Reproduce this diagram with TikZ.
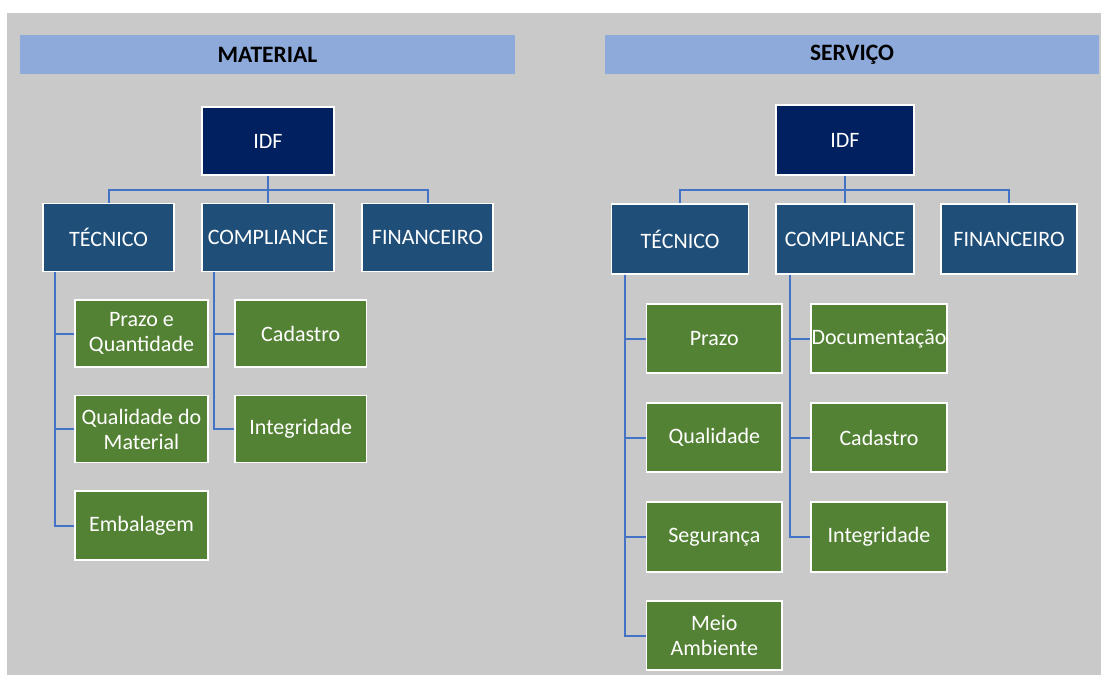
\documentclass[tikz,border=0pt]{standalone}
\usepackage{fontspec}
\setmainfont{Carlito}
\usetikzlibrary{calc}
\definecolor{bggray}{HTML}{C9C9C9}
\definecolor{bannerblue}{HTML}{8EAADB}
\definecolor{navy}{HTML}{002060}
\definecolor{midblue}{HTML}{1F4E79}
\definecolor{leafgreen}{HTML}{548235}
\definecolor{linkblue}{HTML}{4472C4}
\begin{document}
\begin{tikzpicture}[x=1pt,y=-1pt,
  banner/.style={fill=bannerblue,draw=none,inner sep=0pt,text=black,
    font=\fontsize{23.5}{27}\selectfont\bfseries,minimum height=39pt},
  boxbase/.style={draw=white,line width=1.4pt,inner sep=0pt,text=white,align=center,
    font=\fontsize{22}{25}\selectfont},
  rootbox/.style={boxbase,fill=navy},
  midbox/.style={boxbase,fill=midblue,minimum height=68pt},
  leafbox/.style={boxbase,fill=leafgreen,minimum height=67pt},
  conn/.style={draw=linkblue,line width=2pt}
]
\useasboundingbox (0,0) rectangle (1101,675);
\fill[white] (0,0) rectangle (1101,675);
\fill[bggray] (7,13) rectangle (1101,675);

% ---------- MATERIAL ----------
\node[banner,minimum width=495pt] (bannerL) at (267.5,54.5) {MATERIAL};
\node[rootbox,minimum width=132pt,minimum height=68pt] (idfL) at (268,141) {IDF};
\node[midbox,minimum width=131pt] (tecL) at (108.5,237.5) {TÉCNICO};
\node[midbox,minimum width=132pt] (compL) at (268,237.5) {COMPLIANCE};
\node[midbox,minimum width=131pt] (finL) at (427.5,237.5) {FINANCEIRO};

\node[leafbox,minimum width=133pt] (prazoL) at (141.5,333.5) {Prazo e\\Quantidade};
\node[leafbox,minimum width=133pt] (qualL) at (141.5,429) {Qualidade do\\Material};
\node[leafbox,minimum width=133pt,minimum height=69pt] (embL) at (141.5,525.5) {Embalagem};
\node[leafbox,minimum width=131.5pt] (cadL) at (300.75,333.5) {Cadastro};
\node[leafbox,minimum width=131.5pt] (intL) at (300.75,429) {Integridade};

\coordinate (barL) at (268,189.5);
\draw[conn] (tecL.north) |- (barL) -| (finL.north);
\draw[conn] (idfL.south) -- (compL.north);
\coordinate (tecLx) at ([xshift=12.5pt]tecL.south west);
\coordinate (compLx) at ([xshift=12.5pt]compL.south west);
\draw[conn] (tecLx) |- (embL.west);
\draw[conn] (tecLx) |- (qualL.west);
\draw[conn] (tecLx) |- (prazoL.west);
\draw[conn] (compLx) |- (intL.west);
\draw[conn] (compLx) |- (cadL.west);

% ---------- SERVIÇO ----------
\node[banner,minimum width=494pt] (bannerR) at (852,54.5) {SERVIÇO};
\node[rootbox,minimum width=138pt,minimum height=70pt] (idfR) at (845,140) {IDF};
\node[midbox,minimum width=137pt,minimum height=70pt] (tecR) at (680,239) {TÉCNICO};
\node[midbox,minimum width=138pt,minimum height=70pt] (compR) at (845,239) {COMPLIANCE};
\node[midbox,minimum width=136pt,minimum height=70pt] (finR) at (1009,239) {FINANCEIRO};

\node[leafbox,minimum width=135.5pt,minimum height=69pt] (prazoR) at (714.3,338.5) {Prazo};
\node[leafbox,minimum width=135.5pt,minimum height=69pt] (qualR) at (714.3,437.5) {Qualidade};
\node[leafbox,minimum width=135.5pt,minimum height=70pt] (segR) at (714.3,537) {Segurança};
\node[leafbox,minimum width=135.5pt,minimum height=69pt] (meioR) at (714.3,635.5) {Meio\\Ambiente};
\node[leafbox,minimum width=136pt,minimum height=69pt] (docR) at (879,338.5) {Documentação};
\node[leafbox,minimum width=136pt,minimum height=69pt] (cadR) at (879,437.5) {Cadastro};
\node[leafbox,minimum width=136pt,minimum height=70pt] (intR) at (879,537) {Integridade};

\coordinate (barR) at (845,190);
\draw[conn] (tecR.north) |- (barR) -| (finR.north);
\draw[conn] (idfR.south) -- (compR.north);
\coordinate (tecRx) at ([xshift=14pt]tecR.south west);
\coordinate (compRx) at ([xshift=15pt]compR.south west);
\draw[conn] (tecRx) |- (meioR.west);
\draw[conn] (tecRx) |- (segR.west);
\draw[conn] (tecRx) |- (qualR.west);
\draw[conn] (tecRx) |- (prazoR.west);
\draw[conn] (compRx) |- (intR.west);
\draw[conn] (compRx) |- (cadR.west);
\draw[conn] (compRx) |- (docR.west);
\end{tikzpicture}
\end{document}
